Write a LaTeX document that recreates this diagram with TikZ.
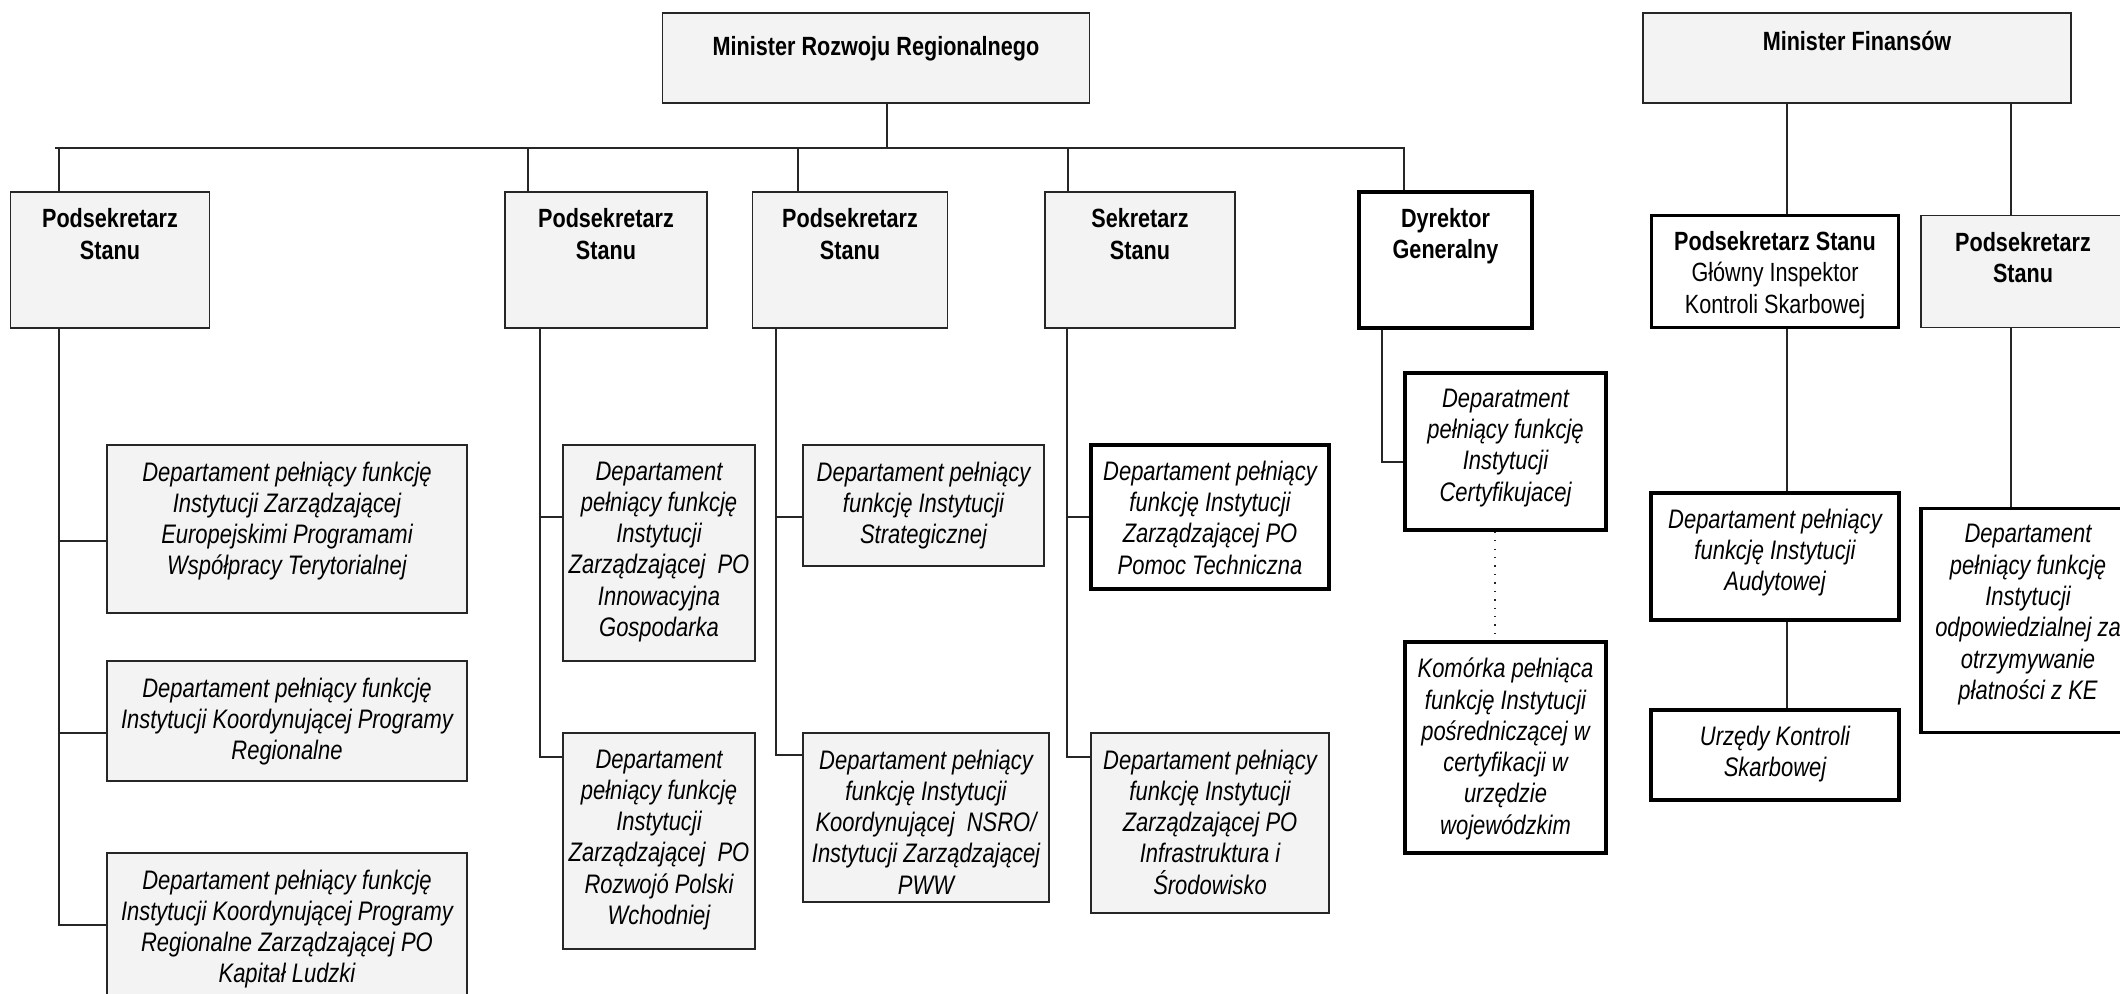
\documentclass[tikz,border=0pt]{standalone}
\usepackage{fontspec}
\setmainfont{Liberation Sans}[FakeStretch=0.82]
\usetikzlibrary{positioning}

\definecolor{boxGray}{HTML}{F3F3F3}
\tikzset{
  orgBox/.style={rectangle, draw=black!85, line width=0.55pt, inner sep=0pt},
  grayBox/.style={orgBox, fill=boxGray},
  boldBox/.style={orgBox, fill=white, draw=black, line width=0.95pt},
  boxText/.style={align=center, inner sep=0pt, font=\fontsize{7.5}{8.9}\selectfont},
  headText/.style={boxText, font=\fontsize{7.5}{8.9}\selectfont\bfseries},
  deptText/.style={boxText, font=\fontsize{7.62}{8.9}\selectfont\itshape},
  link/.style={draw=black!85, line width=0.4pt},
}

\begin{document}
\begin{tikzpicture}
  % \draw[step=1.0,thin,gray!40] (0,0) grid (21.2,9.94);
  \useasboundingbox (0,0) rectangle (21.2,9.94);

  % ministrowie
  \node[grayBox, minimum width=4.27cm, minimum height=0.90cm] (ministerNode) at (8.76,9.36) {};
  \node[headText, below=0.24cm of ministerNode.north] (ministerText) {Minister Rozwoju Regionalnego};
  \node[grayBox, minimum width=4.28cm, minimum height=0.90cm] (finanseNode) at (18.57,9.36) {};
  \node[headText, below=0.18cm of finanseNode.north] (finanseText) {Minister Finansów};

  % kierownictwo MRR
  \node[grayBox, minimum width=1.99cm, minimum height=1.36cm] (podsekANode) at (1.10,7.34) {};
  \node[headText, below=0.17cm of podsekANode.north] (podsekAText) {Podsekretarz\\Stanu};
  \node[grayBox, minimum width=2.02cm, minimum height=1.36cm] (podsekBNode) at (6.06,7.34) {};
  \node[headText, below=0.17cm of podsekBNode.north] (podsekBText) {Podsekretarz\\Stanu};
  \node[grayBox, minimum width=1.95cm, minimum height=1.36cm] (podsekCNode) at (8.50,7.34) {};
  \node[headText, below=0.17cm of podsekCNode.north] (podsekCText) {Podsekretarz\\Stanu};
  \node[grayBox, minimum width=1.90cm, minimum height=1.36cm] (sekretarzNode) at (11.40,7.34) {};
  \node[headText, below=0.17cm of sekretarzNode.north] (sekretarzText) {Sekretarz\\Stanu};
  \node[boldBox, minimum width=1.73cm, minimum height=1.36cm] (dyrektorNode) at (14.455,7.34) {};
  \node[headText, below=0.17cm of dyrektorNode.north] (dyrektorText) {Dyrektor\\Generalny};

  % kierownictwo MF
  \node[boldBox, minimum width=2.47cm, minimum height=1.12cm] (podsekGNode) at (17.75,7.225) {};
  \node[boxText, below=0.17cm of podsekGNode.north] (podsekGText) {\textbf{Podsekretarz Stanu}\\Główny Inspektor\\Kontroli Skarbowej};
  \node[grayBox, minimum width=2.04cm, minimum height=1.12cm] (podsekRNode) at (20.23,7.225) {};
  \node[headText, below=0.17cm of podsekRNode.north] (podsekRText) {Podsekretarz\\Stanu};

  % departamenty
  \node[grayBox, minimum width=3.60cm, minimum height=1.68cm] (deptANode) at (2.87,4.65) {};
  \node[deptText, below=0.17cm of deptANode.north] (deptAText) {Departament pełniący funkcję\\Instytucji Zarządzającej\\Europejskimi Programami\\Współpracy Terytorialnej};
  \node[grayBox, minimum width=3.60cm, minimum height=1.20cm] (deptBNode) at (2.87,2.73) {};
  \node[deptText, below=0.17cm of deptBNode.north] (deptBText) {Departament pełniący funkcję\\Instytucji Koordynującej Programy\\Regionalne};
  \node[grayBox, minimum width=3.60cm, minimum height=1.50cm] (deptCNode) at (2.87,0.66) {};
  \node[deptText, below=0.17cm of deptCNode.north] (deptCText) {Departament pełniący funkcję\\Instytucji Koordynującej Programy\\Regionalne Zarządzającej PO\\Kapitał Ludzki};

  \node[grayBox, minimum width=1.92cm, minimum height=2.16cm] (deptDNode) at (6.59,4.41) {};
  \node[deptText, below=0.17cm of deptDNode.north] (deptDText) {Departament\\pełniący funkcję\\Instytucji\\Zarządzającej\ \ PO\\Innowacyjna\\Gospodarka};
  \node[grayBox, minimum width=1.92cm, minimum height=2.16cm] (deptENode) at (6.59,1.53) {};
  \node[deptText, below=0.17cm of deptENode.north] (deptEText) {Departament\\pełniący funkcję\\Instytucji\\Zarządzającej\ \ PO\\Rozwojó Polski\\Wchodniej};

  \node[grayBox, minimum width=2.41cm, minimum height=1.21cm] (deptFNode) at (9.235,4.885) {};
  \node[deptText, below=0.17cm of deptFNode.north] (deptFText) {Departament pełniący\\funkcję Instytucji\\Strategicznej};
  \node[grayBox, minimum width=2.46cm, minimum height=1.69cm] (deptGNode) at (9.26,1.765) {};
  \node[deptText, below=0.17cm of deptGNode.north] (deptGText) {Departament pełniący\\funkcję Instytucji\\Koordynującej\ \ NSRO/\\Instytucji Zarządzającej\\PWW};

  \node[boldBox, minimum width=2.38cm, minimum height=1.44cm] (deptHNode) at (12.10,4.77) {};
  \node[deptText, below=0.17cm of deptHNode.north] (deptHText) {Departament pełniący\\funkcję Instytucji\\Zarządzającej PO\\Pomoc Techniczna};
  \node[grayBox, minimum width=2.38cm, minimum height=1.80cm] (deptINode) at (12.10,1.71) {};
  \node[deptText, below=0.17cm of deptINode.north] (deptIText) {Departament pełniący\\funkcję Instytucji\\Zarządzającej PO\\Infrastruktura i\\Środowisko};

  \node[boldBox, minimum width=2.01cm, minimum height=1.57cm] (deptJNode) at (15.055,5.425) {};
  \node[deptText, below=0.17cm of deptJNode.north] (deptJText) {Deparatment\\pełniący funkcję\\Instytucji\\Certyfikujacej};
  \node[boldBox, minimum width=2.01cm, minimum height=2.11cm] (deptKNode) at (15.055,2.465) {};
  \node[deptText, below=0.17cm of deptKNode.north] (deptKText) {Komórka pełniąca\\funkcję Instytucji\\pośredniczącej w\\certyfikacji w\\urzędzie\\wojewódzkim};

  \node[boldBox, minimum width=2.48cm, minimum height=1.27cm] (deptLNode) at (17.75,4.375) {};
  \node[deptText, below=0.17cm of deptLNode.north] (deptLText) {Departament pełniący\\funkcję Instytucji\\Audytowej};
  \node[boldBox, minimum width=2.48cm, minimum height=0.90cm] (deptMNode) at (17.75,2.39) {};
  \node[deptText, below=0.17cm of deptMNode.north] (deptMText) {Urzędy Kontroli\\Skarbowej};
  \node[boldBox, minimum width=2.14cm, minimum height=2.24cm] (deptNNode) at (20.28,3.735) {};
  \node[deptText, below=0.17cm of deptNNode.north] (deptNText) {Departament\\pełniący funkcję\\Instytucji\\odpowiedzialnej za\\otrzymywanie\\płatności z KE};

  % magistrala MRR
  \coordinate (busL) at (0.55,8.46);
  \coordinate (busR) at (14.04,8.46);
  \coordinate (stemM) at (8.87,8.46);
  \coordinate (stemA) at (0.59,8.46);
  \coordinate (stemB) at (5.28,8.46);
  \coordinate (stemC) at (7.98,8.46);
  \coordinate (stemS) at (10.68,8.46);
  \draw[link, line width=0.55pt] (busL) -- (busR) -- (busR |- dyrektorNode.north);
  \draw[link] (ministerNode.south -| stemM) -- (stemM);
  \draw[link] (stemA) -- (stemA |- podsekANode.north);
  \draw[link] (stemB) -- (stemB |- podsekBNode.north);
  \draw[link] (stemC) -- (stemC |- podsekCNode.north);
  \draw[link] (stemS) -- (stemS |- sekretarzNode.north);

  % podlegle departamenty
  \coordinate (jointA1) at (0.59,4.53);
  \coordinate (jointA2) at (0.59,2.61);
  \coordinate (jointA3) at (0.59,0.69);
  \draw[link] (jointA3 |- podsekANode.south) -- (jointA3) -- (jointA3 -| deptCNode.west);
  \draw[link] (jointA1) -- (jointA1 -| deptANode.west);
  \draw[link] (jointA2) -- (jointA2 -| deptBNode.west);

  \coordinate (jointB1) at (5.40,4.77);
  \coordinate (jointB2) at (5.40,2.37);
  \draw[link] (jointB2 |- podsekBNode.south) -- (jointB2) -- (jointB2 -| deptENode.west);
  \draw[link] (jointB1) -- (jointB1 -| deptDNode.west);

  \coordinate (jointC1) at (7.76,4.77);
  \coordinate (jointC2) at (7.76,2.39);
  \draw[link] (jointC2 |- podsekCNode.south) -- (jointC2) -- (jointC2 -| deptGNode.west);
  \draw[link] (jointC1) -- (jointC1 -| deptFNode.west);

  \coordinate (jointS1) at (10.67,4.77);
  \coordinate (jointS2) at (10.67,2.37);
  \draw[link] (jointS2 |- sekretarzNode.south) -- (jointS2) -- (jointS2 -| deptINode.west);
  \draw[link] (jointS1) -- (jointS1 -| deptHNode.west);

  \coordinate (jointD) at (13.82,5.32);
  \draw[link] (jointD |- dyrektorNode.south) -- (jointD) -- (jointD -| deptJNode.west);
  \coordinate (dotJ) at (14.95,4.0);
  \draw[link, dotted] (dotJ |- deptJNode.south) -- (dotJ |- deptKNode.north);

  % MF
  \coordinate (spineG) at (17.87,5.0);
  \coordinate (spineR) at (20.11,5.0);
  \draw[link] (spineG |- finanseNode.south) -- (spineG |- podsekGNode.north);
  \draw[link] (spineR |- finanseNode.south) -- (spineR |- podsekRNode.north);
  \draw[link] (spineG |- podsekGNode.south) -- (spineG |- deptLNode.north);
  \draw[link] (spineG |- deptLNode.south) -- (spineG |- deptMNode.north);
  \draw[link] (spineR |- podsekRNode.south) -- (spineR |- deptNNode.north);
\end{tikzpicture}
\end{document}
